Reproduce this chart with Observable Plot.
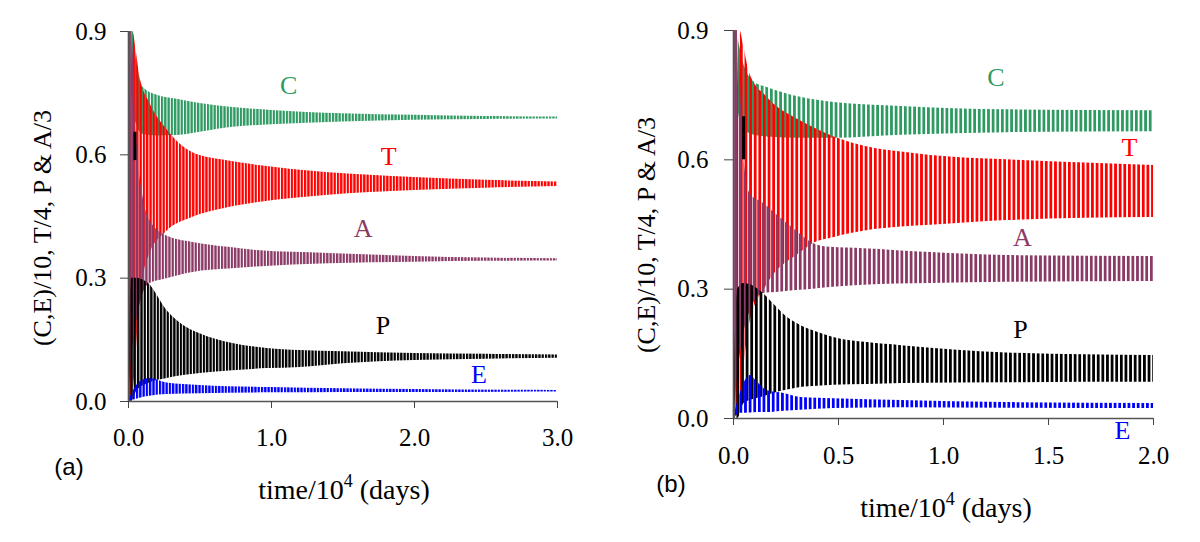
<!DOCTYPE html>
<html><head><meta charset="utf-8">
<script src="https://cdn.jsdelivr.net/npm/d3@7"></script>
<script src="https://cdn.jsdelivr.net/npm/@observablehq/plot@0.6"></script>
<style>
html,body{margin:0;padding:0;background:#fff;}
#wrap{display:flex;width:1200px;height:542px;overflow:hidden;}
</style></head><body><div id="wrap"></div>
<script>
// ---------- data (time in 10^4 days) ----------
// Panel (a): envelope (upper / lower) of the oscillating solutions
const a_C_t  = [0, 0.03, 0.06, 0.1, 0.2, 0.34, 0.5, 0.73, 1.0, 1.5, 2.0, 2.5, 3.0];
const a_C_hi = [0.9, 0.9, 0.82, 0.765, 0.745, 0.735, 0.725, 0.715, 0.708, 0.700, 0.696, 0.693, 0.692];
const a_C_lo = [0.86, 0.72, 0.67, 0.65, 0.646, 0.647, 0.655, 0.667, 0.673, 0.680, 0.684, 0.686, 0.687];

const a_T_t  = [0, 0.03, 0.055, 0.08, 0.15, 0.26, 0.45, 0.68, 0.91, 1.38, 2.0, 2.5, 3.0];
const a_T_hi = [0.05, 0.9, 0.85, 0.79, 0.725, 0.665, 0.605, 0.586, 0.574, 0.557, 0.545, 0.538, 0.534];
const a_T_lo = [0.0, 0.02, 0.12, 0.25, 0.36, 0.411, 0.448, 0.47, 0.484, 0.501, 0.513, 0.519, 0.523];

const a_A_t  = [0, 0.02, 0.06, 0.1, 0.15, 0.26, 0.45, 0.7, 0.9, 1.4, 2.0, 2.5, 3.0];
const a_A_hi = [0.9, 0.9, 0.62, 0.5, 0.44, 0.404, 0.387, 0.375, 0.367, 0.36, 0.353, 0.349, 0.347];
const a_A_lo = [0.0, 0.1, 0.2, 0.26, 0.287, 0.298, 0.314, 0.322, 0.327, 0.335, 0.339, 0.341, 0.342];

const a_P_t  = [0, 0.02, 0.06, 0.14, 0.27, 0.385, 0.5, 0.73, 0.97, 1.2, 1.5, 2.0, 2.5, 3.0];
const a_P_hi = [0.0, 0.3, 0.3, 0.287, 0.221, 0.185, 0.165, 0.141, 0.129, 0.124, 0.121, 0.117, 0.115, 0.113];
const a_P_lo = [0.0, 0.0, 0.027, 0.044, 0.056, 0.063, 0.068, 0.075, 0.08, 0.083, 0.092, 0.1, 0.103, 0.105];

const a_E_t  = [0, 0.05, 0.1, 0.15, 0.27, 0.5, 1.0, 1.5, 2.0, 3.0];
const a_E_hi = [0.0, 0.035, 0.052, 0.056, 0.045, 0.039, 0.034, 0.031, 0.029, 0.027];
const a_E_lo = [0.0, 0.005, 0.01, 0.013, 0.017, 0.019, 0.021, 0.022, 0.022, 0.023];

// Panel (b)
const b_C_t  = [0, 0.02, 0.05, 0.1, 0.16, 0.32, 0.48, 0.8, 1.3, 2.0];
const b_C_hi = [0.9, 0.88, 0.82, 0.78, 0.768, 0.745, 0.733, 0.724, 0.716, 0.714];
const b_C_lo = [0.88, 0.72, 0.67, 0.657, 0.653, 0.65, 0.65, 0.657, 0.663, 0.665];

const b_T_t  = [0, 0.03, 0.05, 0.077, 0.16, 0.32, 0.38, 0.48, 0.64, 0.8, 0.94, 1.3, 2.0];
const b_T_hi = [0.05, 0.9, 0.86, 0.80, 0.745, 0.69, 0.675, 0.653, 0.63, 0.618, 0.61, 0.60, 0.587];
const b_T_lo = [0.0, 0.02, 0.12, 0.22, 0.31, 0.385, 0.406, 0.42, 0.436, 0.444, 0.448, 0.459, 0.466];

const b_A_t  = [0, 0.02, 0.05, 0.08, 0.14, 0.22, 0.3, 0.38, 0.46, 0.62, 0.94, 1.3, 2.0];
const b_A_hi = [0.9, 0.9, 0.6, 0.52, 0.5, 0.467, 0.435, 0.406, 0.397, 0.394, 0.385, 0.378, 0.376];
const b_A_lo = [0.0, 0.1, 0.2, 0.25, 0.29, 0.293, 0.297, 0.3, 0.304, 0.309, 0.313, 0.316, 0.318];

const b_P_t  = [0, 0.02, 0.05, 0.138, 0.19, 0.257, 0.319, 0.4, 0.476, 0.638, 0.8, 1.3, 2.0];
const b_P_hi = [0.0, 0.3, 0.313, 0.292, 0.266, 0.234, 0.216, 0.2, 0.188, 0.176, 0.169, 0.152, 0.146];
const b_P_lo = [0.0, 0.0, 0.035, 0.05, 0.058, 0.066, 0.072, 0.075, 0.077, 0.079, 0.081, 0.083, 0.084];

const b_E_t  = [0, 0.033, 0.08, 0.114, 0.16, 0.24, 0.32, 0.48, 0.8, 1.3, 2.0];
const b_E_hi = [0.0, 0.06, 0.1, 0.084, 0.065, 0.058, 0.049, 0.046, 0.042, 0.037, 0.035];
const b_E_lo = [0.0, 0.012, 0.013, 0.014, 0.014, 0.017, 0.019, 0.023, 0.025, 0.024, 0.023];

// early black transient segment (P) visible in each panel
const a_dash = [{t: 0.045, lo: 0.586, hi: 0.655}];
const b_dash = [{t: 0.048, lo: 0.60, hi: 0.70}];

// oscillation period (10^4 days)
const a_period = 0.023;
const b_period = 0.022;

// ticks
const a_xTicks = [0, 1, 2, 3];
const b_xTicks = [0, 0.5, 1, 1.5, 2];
const yTicks = [0, 0.3, 0.6, 0.9];

// series labels (name, t, value)
const a_labels = [["C", 1.12, 0.769], ["T", 1.82, 0.596], ["A", 1.64, 0.421], ["P", 1.78, 0.185], ["E", 2.45, 0.066]];
const b_labels = [["C", 1.25, 0.791], ["T", 1.886, 0.629], ["A", 1.376, 0.42], ["P", 1.367, 0.206], ["E", 1.852, -0.028]];

const series = ["C", "T", "A", "P", "E"];
const colors = {C: "#2e9a62", T: "#ff0000", A: "#8b3a66", P: "#000000", E: "#0000ff"};

function table(src) {
  const out = [];
  for (const s of series) {
    const [t, hi, lo] = src[s];
    t.forEach((v, i) => out.push({s, t: v, hi: hi[i], lo: lo[i]}));
  }
  return out;
}
const dataA = table({C: [a_C_t, a_C_hi, a_C_lo], T: [a_T_t, a_T_hi, a_T_lo], A: [a_A_t, a_A_hi, a_A_lo], P: [a_P_t, a_P_hi, a_P_lo], E: [a_E_t, a_E_hi, a_E_lo]});
const dataB = table({C: [b_C_t, b_C_hi, b_C_lo], T: [b_T_t, b_T_hi, b_T_lo], A: [b_A_t, b_A_hi, b_A_lo], P: [b_P_t, b_P_hi, b_P_lo], E: [b_E_t, b_E_hi, b_E_lo]});

const SERIF = "'Liberation Serif', 'Times New Roman', serif";
const SANS = "'Liberation Sans', Arial, sans-serif";
const fmt = d3.format(".1f");

function panel(cfg) {
  const W = 600, H = 542;
  const phases = [0, 0.5, 0.25, 0.75, 0.4];
  const defs = (index, scales) => {
    const x = scales.x;
    const w = x(cfg.period) - x(0);
    const g = d3.create("svg:defs");
    series.forEach((s, i) => {
      const p = g.append("pattern").attr("id", cfg.id + s).attr("patternUnits", "userSpaceOnUse")
        .attr("x", x(0) + phases[i] * w).attr("y", 0).attr("width", w).attr("height", H);
      p.append("rect").attr("x", 0).attr("y", 0).attr("width", w * cfg.duty).attr("height", H).attr("fill", colors[s]);
    });
    return g.node();
  };
  const xmin = cfg.xDomain[0], xmax = cfg.xDomain[1];
  const marks = [defs];
  for (const s of series) {
    marks.push(Plot.areaY(cfg.data.filter(d => d.s === s), {
      x: "t", y1: "lo", y2: "hi", fill: `url(#${cfg.id}${s})`, curve: "monotone-x"
    }));
  }
  marks.push(Plot.ruleX(cfg.dash, {x: "t", y1: "lo", y2: "hi", stroke: "#000", strokeWidth: 3}));
  marks.push(Plot.ruleX([xmin], {y1: 0, y2: 0.9, stroke: "#555", strokeWidth: 1.6}));
  marks.push(Plot.ruleY([0], {x1: xmin, x2: xmax, stroke: "#555", strokeWidth: 1.6}));
  // tick marks (labels drawn below as text marks)
  marks.push(Plot.axisX({ticks: cfg.xTicks, tickFormat: () => "", tickSize: 7, label: null, stroke: "#444"}));
  marks.push(Plot.axisY({ticks: yTicks, tickFormat: () => "", tickSize: cfg.yTick, label: null, stroke: "#444"}));
  marks.push(Plot.text(cfg.xTicks, {x: d => d, text: d => fmt(d), frameAnchor: "bottom", dy: cfg.xLabDy, lineAnchor: "middle", fontSize: 25, fontFamily: SERIF, fill: "#000"}));
  marks.push(Plot.text(yTicks, {y: d => d, text: d => fmt(d), frameAnchor: "left", dx: cfg.yLabDx, textAnchor: "end", lineAnchor: "middle", fontSize: 25, fontFamily: SERIF, fill: "#000"}));
  for (const [s, t, v] of cfg.labels) {
    marks.push(Plot.text([{s, t, v}], {x: "t", y: "v", text: "s", fill: colors[s], fontSize: 26, fontFamily: SERIF}));
  }
  const svg = Plot.plot({
    width: W, height: H,
    marginLeft: cfg.ml, marginRight: cfg.mr, marginTop: cfg.mt, marginBottom: cfg.mb,
    style: {fontFamily: SERIF, fontSize: "25px", color: "#000", background: "#fff", overflow: "visible"},
    x: {domain: cfg.xDomain},
    y: {domain: [0, 0.9]},
    marks
  });
  const s = d3.select(svg);
  // axis titles and panel tag
  s.append("text")
    .attr("transform", `translate(${cfg.yTitle[0]},${cfg.yTitle[1]}) rotate(-90)`)
    .attr("text-anchor", "middle").attr("dy", "0.35em")
    .attr("font-family", SERIF).attr("font-size", 26).attr("fill", "#000")
    .text("(C,E)/10, T/4, P & A/3");
  const xt = s.append("text")
    .attr("x", cfg.xTitle[0]).attr("y", cfg.xTitle[1])
    .attr("text-anchor", "middle")
    .attr("font-family", SERIF).attr("font-size", 28).attr("fill", "#000");
  xt.append("tspan").text("time/10");
  xt.append("tspan").attr("font-size", 18).attr("dy", -12).text("4");
  xt.append("tspan").attr("dy", 12).text(" (days)");
  s.append("text")
    .attr("x", cfg.tagPos[0]).attr("y", cfg.tagPos[1]).attr("dy", "0.35em")
    .attr("text-anchor", "middle")
    .attr("font-family", SANS).attr("font-size", 24).attr("fill", "#000")
    .text(cfg.tag);
  return svg;
}

const wrap = document.getElementById("wrap");
wrap.appendChild(panel({
  id: "pa", data: dataA, dash: a_dash, period: a_period, duty: 0.7, xDomain: [0, 3], xTicks: a_xTicks,
  labels: a_labels, tag: "(a)",
  ml: 128, mr: 43, mt: 31, mb: 141, yTick: 8, xLabDy: 36, yLabDx: -22,
  yTitle: [42, 228], xTitle: [344, 499], tagPos: [69, 467]
}));
wrap.appendChild(panel({
  id: "pb", data: dataB, dash: b_dash, period: b_period, duty: 0.6, xDomain: [0, 2], xTicks: b_xTicks,
  labels: b_labels, tag: "(b)",
  ml: 133, mr: 47, mt: 30, mb: 124, yTick: 9, xLabDy: 37, yLabDx: -25,
  yTitle: [46, 235], xTitle: [346, 517], tagPos: [71, 484]
}));
</script>
</body></html>
